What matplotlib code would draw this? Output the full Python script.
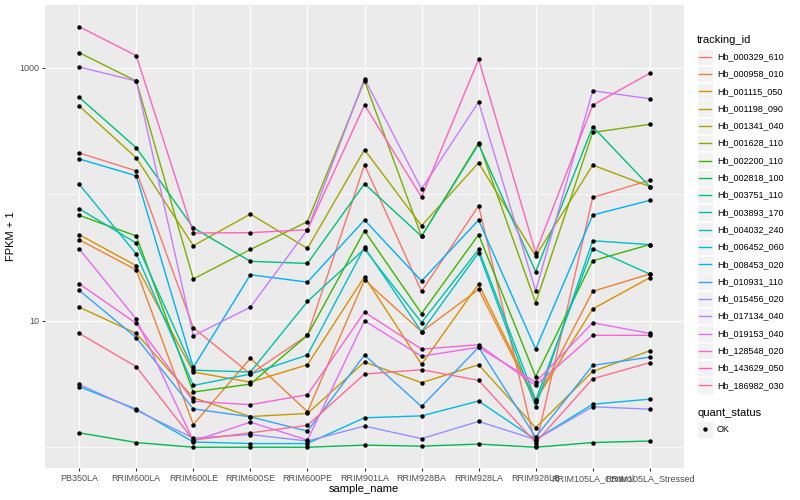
import numpy as np
import matplotlib
matplotlib.use("Agg")
import matplotlib.pyplot as plt
from matplotlib.patches import Rectangle
from matplotlib.lines import Line2D
from matplotlib.ticker import FixedLocator, NullFormatter

plt.rcParams['font.family'] = ['Liberation Sans', 'DejaVu Sans']

# x categories
samples = ["PB350LA", "RRIM600LA", "RRIM600LE", "RRIM600SE", "RRIM600PE",
           "RRIM901LA", "RRIM928BA", "RRIM928LA", "RRIM928LB",
           "RRIM105LA_Control", "RRIM105LA_Stressed"]

tracking_ids = ["Hb_000329_610", "Hb_000958_010", "Hb_001115_050", "Hb_001198_090",
                "Hb_001341_040", "Hb_001628_110", "Hb_002200_110", "Hb_002818_100",
                "Hb_003751_110", "Hb_003893_170", "Hb_004032_240", "Hb_006452_060",
                "Hb_008453_020", "Hb_010931_110", "Hb_015456_020", "Hb_017134_040",
                "Hb_019153_040", "Hb_128548_020", "Hb_143629_050", "Hb_186982_030"]

# ggplot default hue palette for 20 levels
colours = ["#F8766D", "#EA8331", "#D89000", "#C09B00", "#A3A500", "#7CAE00",
           "#39B600", "#00BB4E", "#00BF7D", "#00C1A3", "#00BFC4", "#00BAE0",
           "#00B0F6", "#35A2FF", "#9590FF", "#C77CFF", "#E76BF3", "#FA62DB",
           "#FF62BC", "#FF6C91"]

# FPKM + 1 values (one list per gene)
hb_000329_610 = [212, 153, 8.81, 3.79, 7.67, 171, 17.1, 81.1, 1.02, 94.4, 129]
hb_000958_010 = [43.7, 25.2, 1.51, 5.05, 1.91, 21.0, 8.18, 17.7, 2.29, 17.1, 23.4]
hb_001115_050 = [47.9, 27.2, 3.93, 3.27, 4.49, 22.3, 4.52, 19.5, 2.36, 12.4, 21.9]
hb_001198_090 = [12.8, 7.94, 2.46, 1.75, 1.85, 4.72, 3.24, 4.49, 1.43, 3.98, 5.79]
hb_001341_040 = [498, 194, 39.2, 69.7, 37.3, 225, 56.4, 177, 32.5, 170, 115]
hb_001628_110 = [1315, 785, 21.4, 36.6, 60.7, 789, 46.5, 255, 13.9, 308, 357]
hb_002200_110 = [68.1, 46.8, 2.73, 3.16, 7.67, 51.4, 11.4, 47.9, 3.61, 29.8, 40.0]
hb_002818_100 = [1.30, 1.09, 1.0, 1.0, 1.0, 1.04, 1.02, 1.06, 1.0, 1.09, 1.12]
hb_003751_110 = [583, 233, 54.3, 29.5, 28.4, 121, 46.5, 249, 24.4, 342, 115]
hb_003893_170 = [76.8, 41.1, 4.07, 3.93, 14.2, 36.9, 9.68, 36.6, 2.36, 37.2, 23.4]
hb_004032_240 = [120, 33.7, 3.08, 3.79, 5.36, 38.0, 8.18, 34.5, 2.09, 42.9, 40.0]
hb_006452_060 = [3.01, 2.00, 1.10, 1.07, 1.07, 1.71, 1.77, 2.32, 1.15, 2.19, 2.40]
hb_008453_020 = [190, 140, 4.28, 23.1, 20.2, 62.5, 20.6, 62.5, 5.97, 68.5, 89.5]
hb_010931_110 = [17.4, 7.34, 2.01, 1.74, 1.34, 5.36, 2.10, 6.17, 1.20, 4.44, 5.16]
hb_015456_020 = [3.14, 1.96, 1.18, 1.26, 1.12, 1.47, 1.17, 1.60, 1.15, 2.09, 2.00]
hb_017134_040 = [1014, 785, 7.6, 12.8, 52.4, 818, 110, 536, 17.3, 658, 569]
hb_019153_040 = [36.9, 10.3, 1.12, 1.58, 1.14, 10.0, 5.24, 6.17, 3.27, 9.64, 7.94]
hb_128548_020 = [19.6, 9.53, 2.31, 2.17, 2.60, 11.7, 5.97, 6.46, 3.08, 7.67, 7.67]
hb_143629_050 = [2110, 1245, 49.3, 49.7, 52.4, 509, 95, 1164, 34.5, 507, 904]
hb_186982_030 = [7.94, 4.33, 1.14, 1.30, 1.49, 3.79, 4.10, 3.38, 1.09, 3.48, 4.66]

series = [hb_000329_610, hb_000958_010, hb_001115_050, hb_001198_090,
          hb_001341_040, hb_001628_110, hb_002200_110, hb_002818_100,
          hb_003751_110, hb_003893_170, hb_004032_240, hb_006452_060,
          hb_008453_020, hb_010931_110, hb_015456_020, hb_017134_040,
          hb_019153_040, hb_128548_020, hb_143629_050, hb_186982_030]

W, H = 800, 500
fig = plt.figure(figsize=(8, 5), dpi=100)
ax = fig.add_axes([45 / W, 32 / H, (684 - 45) / W, (495 - 32) / H])
ax.set_facecolor("#EBEBEB")

x = np.arange(len(samples))
for vals, col in zip(series, colours):
    ax.plot(x, vals, color=col, lw=1.0, zorder=2)
for vals in series:
    ax.plot(x, vals, "o", color="black", ms=3.2, mew=0, zorder=3)

ax.set_yscale("log")
ax.set_ylim(10 ** -0.164, 10 ** 3.496)
ax.set_xlim(-0.6, 10.6)
ax.set_xticks(x)
ax.set_xticklabels(samples)
ax.set_yticks([10, 1000])
ax.set_yticklabels(["10", "1000"])
ax.yaxis.set_minor_locator(FixedLocator([1, 100]))
ax.yaxis.set_minor_formatter(NullFormatter())
ax.tick_params(which="major", length=2.2, width=0.8, color="#333333",
               labelsize=6.5, labelcolor="#4D4D4D", pad=2)
ax.tick_params(which="minor", length=0)
ax.grid(which="major", color="white", lw=1.0)
ax.grid(which="minor", axis="y", color="white", lw=0.5)
ax.set_axisbelow(True)
for s in ax.spines.values():
    s.set_visible(False)

# axis titles
fig.text(364 / W, 1 - 489 / H, "sample_name", ha="center", va="center", fontsize=8)
fig.text(11 / W, 1 - 236 / H, "FPKM + 1", ha="center", va="center",
         rotation=90, fontsize=8)

# legend drawn by hand to mimic ggplot keys
def fy(y):
    return 1 - y / H

fig.text(697 / W, fy(40), "tracking_id", ha="left", va="center", fontsize=8)
for i, (tid, col) in enumerate(zip(tracking_ids, colours)):
    yc = 56.7 + 17.3 * i
    fig.add_artist(Rectangle((697 / W, fy(yc + 8.2)), 16 / W, 16.4 / H,
                             transform=fig.transFigure, facecolor="#F2F2F2",
                             edgecolor="white", lw=0.5))
    fig.add_artist(Line2D([699 / W, 711 / W], [fy(yc), fy(yc)],
                          transform=fig.transFigure, color=col, lw=1.0))
    fig.text(717 / W, fy(yc), tid, ha="left", va="center", fontsize=6.5)

fig.text(697 / W, fy(413), "quant_status", ha="left", va="center", fontsize=8)
fig.add_artist(Rectangle((697 / W, fy(429.3 + 8.2)), 16 / W, 16.4 / H,
                         transform=fig.transFigure, facecolor="#F2F2F2",
                         edgecolor="white", lw=0.5))
fig.add_artist(Line2D([705 / W], [fy(429.3)], transform=fig.transFigure,
                      marker="o", ms=3.2, mew=0, color="black"))
fig.text(717 / W, fy(429.3), "OK", ha="left", va="center", fontsize=6.5)

fig.savefig("out.png", dpi=100)
